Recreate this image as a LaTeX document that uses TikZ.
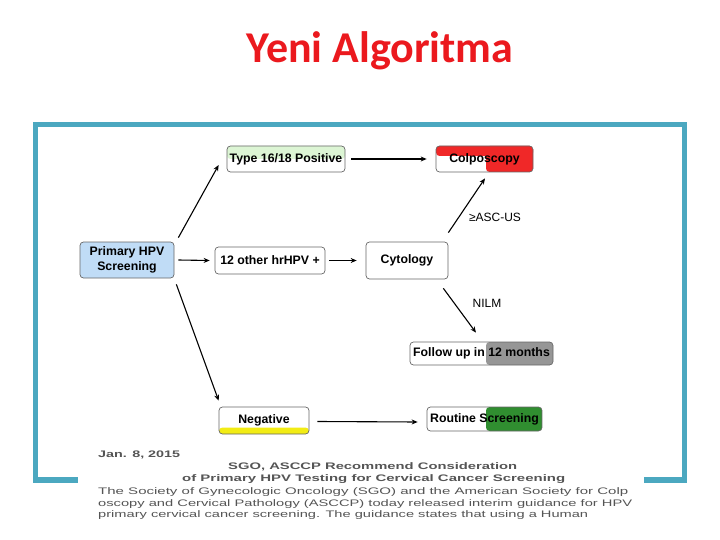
\documentclass[tikz,border=0pt]{standalone}
\usepackage{fontspec}
\setmainfont{Liberation Sans}
\newfontfamily\titlefont{Carlito}
\usepackage{graphicx}
\usetikzlibrary{arrows.meta}
\definecolor{framec}{RGB}{75,168,192}
\definecolor{titlered}{RGB}{235,25,30}
\definecolor{boxblue}{RGB}{192,220,246}
\definecolor{boxgreen}{RGB}{220,245,212}
\definecolor{colred}{RGB}{240,40,40}
\definecolor{fugray}{RGB}{150,150,150}
\definecolor{rsgreen}{RGB}{48,142,48}
\definecolor{negyellow}{RGB}{242,236,20}
\definecolor{cliptext}{RGB}{85,85,85}
\begin{document}
\begin{tikzpicture}[x=1pt,y=-1pt,
  box/.style={draw=black!60, line width=0.7pt, rounded corners=3.5pt, inner sep=0pt,
    font=\fontsize{12.3}{15}\selectfont\bfseries, align=center},
  arr/.style={-{Stealth[length=6pt,width=5pt]}, line width=1.1pt},
  lbl/.style={font=\fontsize{12}{14}\selectfont, inner sep=0pt},
  cliptxt/.style={text=cliptext, inner sep=0pt, anchor=base west}
]
\useasboundingbox (0,0) rectangle (720,540);

% title
\node[font=\titlefont\bfseries\fontsize{44}{50}\selectfont, text=titlered, anchor=base] (title) at (380,63) {Yeni Algoritma};

% frame
\draw[framec, line width=5.5pt] (35.5,124.5) rectangle (684.5,480);
\fill[white] (78,438) rectangle (644,528);

% clipping text
\node[cliptxt, font=\fontsize{9.5}{11}\selectfont\bfseries] (date) at (98,457) {\resizebox{82pt}{\height}{Jan. 8, 2015}};
\node[cliptxt, font=\fontsize{9.5}{11}\selectfont\bfseries] (h1) at (228,469) {\resizebox{289pt}{\height}{SGO, ASCCP Recommend Consideration}};
\node[cliptxt, font=\fontsize{9.5}{11}\selectfont\bfseries] (h2) at (182,481) {\resizebox{383pt}{\height}{of Primary HPV Testing for Cervical Cancer Screening}};
\node[cliptxt, font=\fontsize{9.5}{11}\selectfont] (p1) at (98,494) {\resizebox{530pt}{\height}{The Society of Gynecologic Oncology (SGO) and the American Society for Colp}};
\node[cliptxt, font=\fontsize{9.5}{11}\selectfont] (p2) at (98,506) {\resizebox{534pt}{\height}{oscopy and Cervical Pathology (ASCCP) today released interim guidance for HPV}};
\node[cliptxt, font=\fontsize{9.5}{11}\selectfont] (p3) at (98,517) {\resizebox{490pt}{\height}{primary cervical cancer screening. The guidance states that using a Human}};

% nodes
\node[box, fill=boxblue, minimum width=94pt, minimum height=36pt] (prim) at (127,260) {Primary HPV\\Screening};
\node[box, minimum width=118pt, minimum height=26pt,
  path picture={\fill[boxgreen] (path picture bounding box.north west) rectangle (path picture bounding box.east);}] (t16) at (286,159) {Type 16/18 Positive};
\node[box, minimum width=110pt, minimum height=27pt] (oth) at (270,260.5) {12 other hrHPV +};
\node[box, minimum width=82pt, minimum height=37pt] (cyt) at (407,260.5) {Cytology};
\node[box, minimum width=97pt, minimum height=26pt,
  path picture={\fill[colred] (path picture bounding box.north west) rectangle ([yshift=-10pt]path picture bounding box.north east);
    \fill[colred] ([xshift=1.5pt]path picture bounding box.north) rectangle (path picture bounding box.south east);}] (col) at (484.5,159) {Colposcopy};
\node[box, minimum width=143pt, minimum height=23pt,
  path picture={\fill[fugray] ([xshift=4.5pt]path picture bounding box.north) rectangle (path picture bounding box.south east);}] (fol) at (481.5,353.5) {Follow up in 12 months};
\node[box, minimum width=90pt, minimum height=27pt,
  path picture={\fill[negyellow] (path picture bounding box.south west) rectangle ([yshift=6.5pt]path picture bounding box.south east);}] (neg) at (264,420.5) {Negative};
\node[box, minimum width=115pt, minimum height=24pt,
  path picture={\fill[rsgreen] ([xshift=1.5pt]path picture bounding box.north) rectangle (path picture bounding box.south east);}] (rou) at (484.5,419) {Routine Screening};

% labels
\node[lbl] (asc) at (495,217) {≥ASC-US};
\node[lbl] (nilm) at (487,303.5) {NILM};

% arrows
\draw[arr] ([shift={(4,-4)}]prim.north east) -- ([shift={(-8,6)}]t16.west);
\draw[arr] ([xshift=4pt]prim.east) -- ([xshift=-5pt]oth.west);
\draw[arr] ([shift={(2,6)}]prim.south east) -- ([shift={(0,-6)}]neg.north west);
\draw[arr] ([xshift=6pt]t16.east) -- ([xshift=-9pt]col.west);
\draw[arr] ([xshift=4pt]oth.east) -- ([xshift=-9pt]cyt.west);
\draw[arr] ([shift={(0,-9)}]cyt.north east) -- ([shift={(0.5,6)}]col.south);
\draw[arr] ([shift={(-5,9)}]cyt.south east) -- ([shift={(-5.5,-9)}]fol.north);
\draw[arr] ([shift={(8,1)}]neg.east) -- ([shift={(-9,3)}]rou.west);
\end{tikzpicture}
\end{document}
